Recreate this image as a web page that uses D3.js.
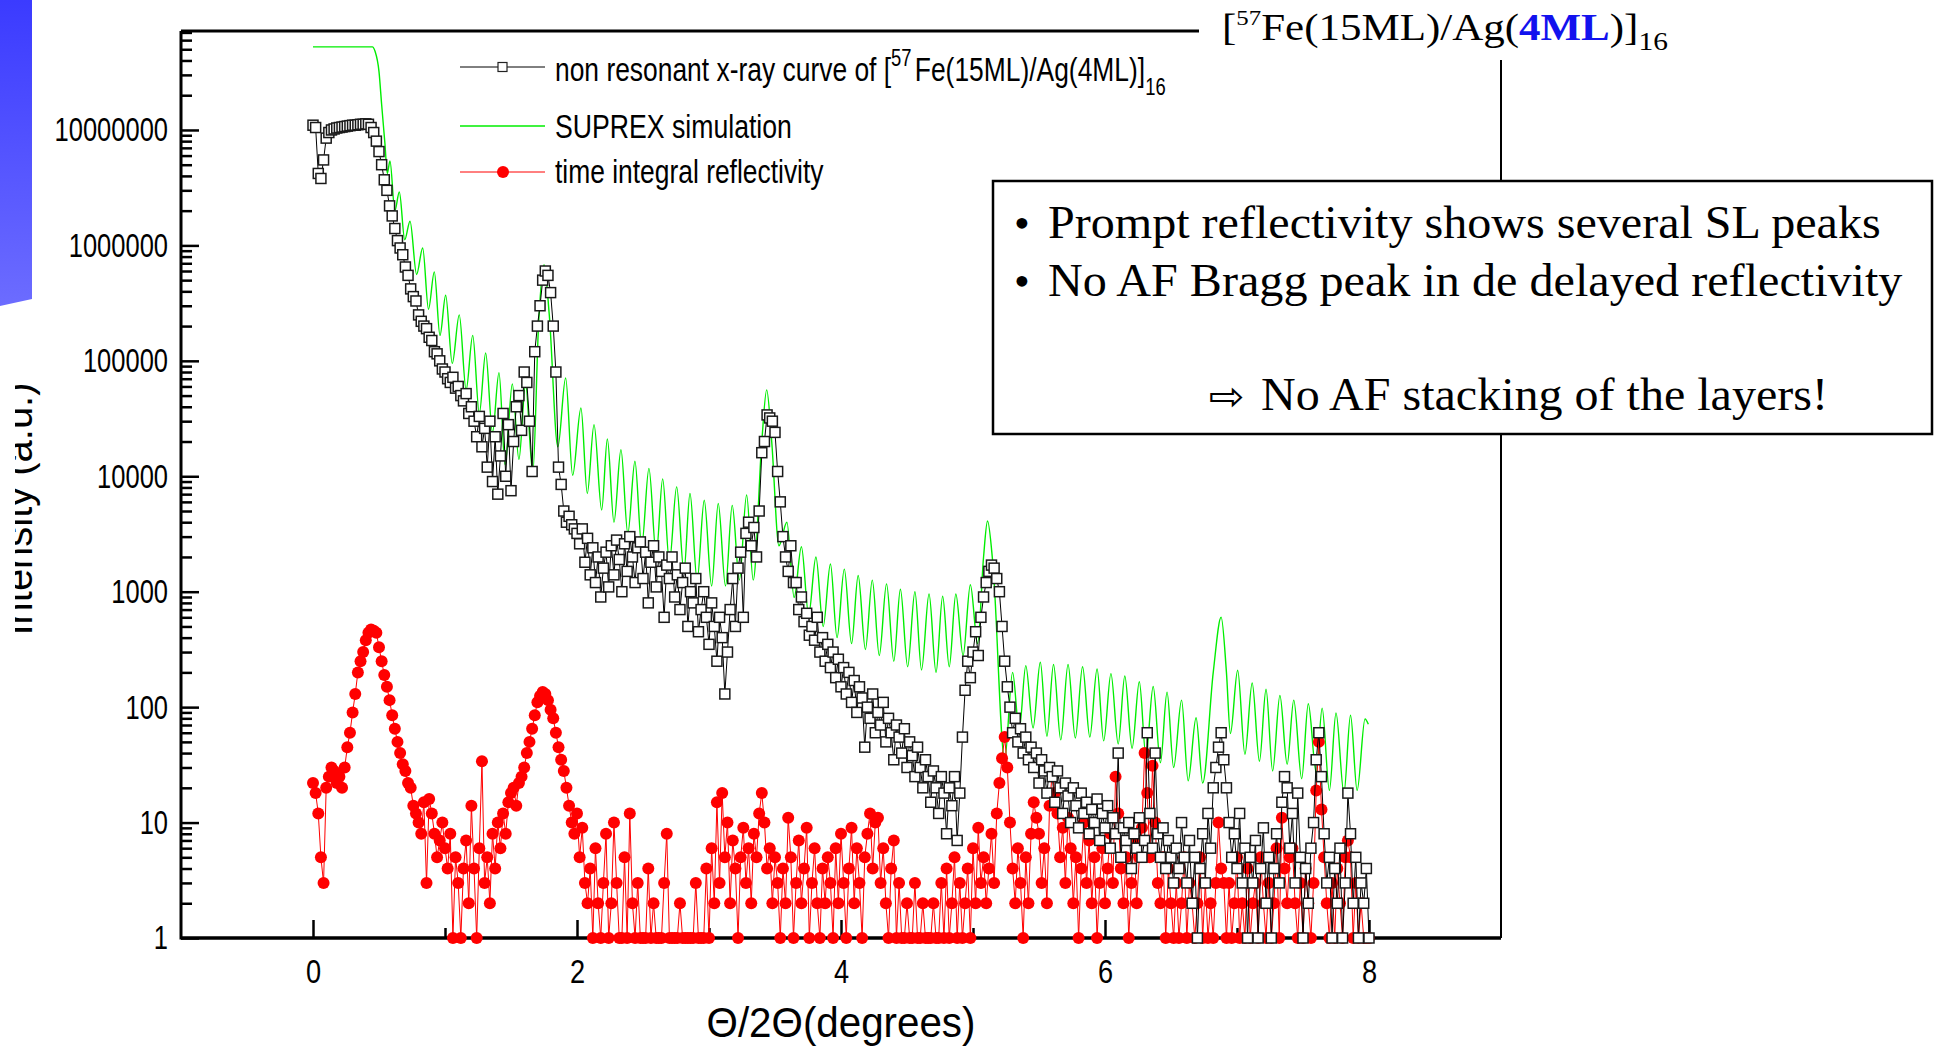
<!DOCTYPE html>
<html>
<head>
<meta charset="utf-8">
<script src="https://cdn.jsdelivr.net/npm/d3@7"></script>
<style>
  html, body { margin: 0; padding: 0; background: #fff; }
  svg { display: block; font-family: "Liberation Sans", Arial, sans-serif; }
</style>
</head>
<body>
<svg id="chart" width="1935" height="1048"></svg>
<script>
// measured points are on a regular 0.02 degree grid from 0 to 8
const thetaStep = 0.02;

// non resonant x-ray curve (black squares)
const xrayCounts = [
  1.1e7, 1.05e7, 4.2e6, 3.8e6, 5.5e6, 8.5e6, 9.5e6, 1.0e7, 1.02e7, 1.04e7,
  1.05e7, 1.06e7, 1.07e7, 1.08e7, 1.09e7, 1.1e7, 1.1e7, 1.11e7, 1.12e7, 1.12e7,
  1.13e7, 1.12e7, 1.05e7, 9.5e6, 8.0e6, 6.5e6, 5.0e6, 3.7e6, 3.0e6, 2.2e6,
  1.8e6, 1.4e6, 1.1e6, 9.5e5, 8.3e5, 6.5e5, 5.5e5, 4.2e5, 3.6e5, 3.3e5,
  2.5e5, 2.2e5, 2.0e5, 1.9e5, 1.6e5, 1.5e5, 1.2e5, 1.15e5, 1.0e5, 8.5e4,
  8.0e4, 7.0e4, 6.5e4, 7.2e4, 5.8e4, 6.0e4, 5.0e4, 4.5e4, 5.2e4, 3.5e4,
  4.0e4, 3.0e4, 2.2e4, 3.3e4, 1.8e4, 2.6e4, 1.2e4, 3.0e4, 9.0e3, 2.2e4,
  7.0e3, 1.5e4, 3.5e4, 1.0e4, 2.8e4, 7.5e3, 2.0e4, 4.0e4, 5.0e4, 2.5e4,
  8.0e4, 6.5e4, 3.0e4, 1.1e4, 1.2e5, 2.0e5, 3.0e5, 5.0e5, 6.0e5, 5.5e5,
  3.9e5, 2.0e5, 8.0e4, 1.2e4, 8.5e3, 5.0e3, 4.0e3, 4.5e3, 3.8e3, 3.5e3,
  3200, 2600, 3500, 1800, 2900, 1400, 2400, 1200, 2000, 900,
  1600, 2200, 1100, 2500, 1400, 2800, 1900, 1000, 2600, 1500,
  3000, 2000, 1200, 2400, 2700, 1300, 2200, 800, 1800, 2500,
  1100, 2000, 1500, 600, 1700, 1300, 2000, 900, 1400, 700,
  1200, 1600, 500, 1000, 800, 1300, 450, 700, 1000, 600,
  350, 800, 500, 250, 600, 400, 130, 300, 700, 1300,
  500, 1600, 2200, 600, 3200, 4000, 2500, 3600, 2000, 5000,
  16000, 20000, 34000, 32000, 30000, 24000, 11000, 6000, 3000, 2000,
  1500, 2500, 1200, 1200, 700, 900, 550, 650, 420, 500,
  380, 600, 300, 400, 250, 350, 220, 300, 180, 260,
  150, 220, 130, 200, 110, 170, 90, 150, 120, 45,
  100, 80, 130, 60, 90, 70, 110, 50, 80, 60,
  35, 70, 55, 40, 65, 30, 50, 38, 25, 45,
  30, 20, 35, 25, 15, 28, 20, 12, 25, 18,
  8, 20, 14, 25, 7, 18, 55, 140, 250, 180,
  300, 450, 280, 600, 900, 1200, 1500, 1700, 1600, 1300,
  1000, 500, 250, 150, 100, 60, 80, 50, 65, 40,
  55, 35, 45, 30, 40, 22, 35, 28, 18, 30,
  25, 15, 28, 20, 12, 22, 17, 10, 20, 14,
  9, 18, 12, 15, 8, 13, 10, 16, 7, 12,
  9, 14, 6, 11, 8, 40, 5, 9, 7, 10,
  4, 8, 6, 11, 5, 7, 60, 12, 6, 40,
  8, 5, 9, 4, 7, 5, 3, 6, 4, 10,
  5, 3, 7, 2, 5, 1, 4, 8, 3, 12,
  6, 20, 30, 45, 60, 35, 20, 10, 5, 8,
  4, 12, 3, 6, 1, 5, 3, 7, 1, 4,
  9, 2, 5, 1, 4, 8, 3, 15, 25, 20,
  6, 12, 3, 18, 5, 1, 4, 2, 6, 10,
  35, 60, 25, 8, 3, 5, 1, 4, 2, 6,
  1, 3, 18, 8, 2, 5, 1, 3, 2, 4,
  1
];

// time integral (delayed) reflectivity (red dots)
const delayedCounts = [
  22, 18, 12, 5, 3, 20, 25, 30, 28, 22,
  25, 20, 30, 45, 60, 90, 130, 200, 250, 300,
  380, 440, 470, 460, 440, 330, 250, 190, 150, 115,
  85, 65, 50, 40, 32, 28, 22, 20, 14, 12,
  10, 8, 15, 3, 16, 12, 8, 5, 7, 10,
  6, 4, 8, 1, 5, 3, 1, 4, 7, 2,
  14, 4, 1, 6, 34, 3, 5, 2, 8, 4,
  10, 6, 12, 8, 15, 18, 20, 14, 22, 25,
  30, 40, 50, 65, 85, 110, 125, 135, 130, 115,
  95, 80, 60, 45, 35, 28, 20, 14, 10, 8,
  12, 5, 9, 3, 2, 4, 1, 6, 2, 1,
  3, 8, 1, 2, 10, 3, 1, 1, 5, 1,
  12, 2, 1, 3, 1, 1, 1, 4, 1, 2,
  1, 1, 1, 3, 8, 1, 1, 1, 1, 2,
  1, 1, 1, 1, 1, 3, 1, 1, 1, 4,
  1, 6, 2, 15, 3, 18, 5, 10, 2, 7,
  4, 1, 5, 9, 3, 6, 2, 8, 5, 12,
  18, 10, 4, 6, 2, 5, 3, 1, 4, 2,
  11, 5, 1, 3, 7, 2, 4, 9, 1, 3,
  6, 2, 1, 4, 2, 5, 3, 1, 6, 2,
  8, 3, 1, 4, 9, 2, 6, 3, 1, 5,
  8, 12, 4, 10, 11, 3, 6, 2, 1, 4,
  7, 1, 3, 1, 1, 2, 1, 1, 3, 1,
  1, 2, 1, 1, 1, 2, 1, 1, 3, 1,
  4, 1, 2, 5, 1, 3, 1, 2, 4, 1,
  6, 2, 9, 3, 5, 2, 4, 8, 3, 12,
  22, 36, 55, 30, 10, 4, 2, 6, 3, 1,
  5, 2, 8, 15, 11, 8, 3, 6, 2, 14,
  27, 18, 12, 5, 9, 3, 11, 6, 2, 5,
  1, 4, 10, 3, 7, 2, 5, 1, 3, 6,
  2, 4, 8, 3, 25, 12, 4, 2, 5, 1,
  3, 7, 2, 5, 9, 40, 18, 5, 31, 10,
  3, 2, 5, 1, 4, 2, 1, 3, 1, 2,
  5, 1, 3, 2, 1, 2, 5, 1, 3, 1,
  2, 1, 3, 10, 4, 3, 1, 3, 1, 2,
  5, 1, 2, 1, 4, 1, 2, 3, 1, 5,
  2, 1, 3, 1, 2, 6, 1, 11, 4, 2,
  5, 6, 2, 1, 3, 1, 4, 2, 1, 3,
  19, 50, 13, 5, 2, 1, 3, 1, 4, 2,
  1, 5, 7, 5, 1, 3, 1, 2, 1, 1,
  1
];

// SUPREX simulation: fringe maxima and minima
const simTheta = [
  0.00, 0.45, 0.47, 0.50, 0.52, 0.545, 0.563, 0.583, 0.62, 0.654,
  0.695, 0.735, 0.785, 0.831, 0.875, 0.919, 0.962, 1.005, 1.055, 1.108,
  1.16, 1.21, 1.26, 1.308, 1.36, 1.409, 1.455, 1.51, 1.56, 1.61,
  1.665, 1.71, 1.75, 1.79, 1.855, 1.914, 1.967, 2.03, 2.078, 2.129,
  2.187, 2.23, 2.28, 2.333, 2.385, 2.439, 2.49, 2.545, 2.60, 2.649,
  2.70, 2.755, 2.81, 2.856, 2.91, 2.964, 3.02, 3.07, 3.125, 3.176,
  3.23, 3.285, 3.335, 3.40, 3.437, 3.475, 3.53, 3.59, 3.645, 3.70,
  3.755, 3.81, 3.865, 3.92, 3.97, 4.025, 4.08, 4.13, 4.185, 4.237,
  4.29, 4.345, 4.40, 4.45, 4.505, 4.56, 4.61, 4.667, 4.72, 4.77,
  4.82, 4.87, 4.925, 4.98, 5.035, 5.08, 5.11, 5.15, 5.24, 5.30,
  5.35, 5.40, 5.455, 5.51, 5.56, 5.61, 5.665, 5.72, 5.775, 5.83,
  5.885, 5.94, 5.99, 6.045, 6.10, 6.15, 6.205, 6.26, 6.31, 6.365,
  6.42, 6.47, 6.52, 6.58, 6.63, 6.69, 6.74, 6.82, 6.88, 6.92,
  6.95, 7.005, 7.06, 7.115, 7.17, 7.22, 7.27, 7.325, 7.38, 7.43,
  7.49, 7.54, 7.60, 7.645, 7.70, 7.75, 7.81, 7.86, 7.91, 7.97,
  7.995
];
const simIntensity = [
  5.25e7, 5.25e7, 4.8e7, 3.2e7, 1.66e7, 7.6e6, 4.2e6, 5.4e6, 2.0e6, 2.9e6,
  1.12e6, 1.62e6, 5.6e5, 9.5e5, 2.8e5, 5.9e5, 1.66e5, 3.7e5, 9.5e4, 2.5e5,
  5.6e4, 1.66e5, 3.5e4, 1.17e5, 2.4e4, 7.9e4, 1.26e4, 6.3e4, 1.4e4, 6.3e4,
  1.07e4, 2.2e5, 6.8e5, 2.5e5, 1.8e4, 7.1e4, 1.02e4, 3.9e4, 7.1e3, 2.8e4,
  5.1e3, 2.1e4, 4.0e3, 1.7e4, 3.2e3, 1.35e4, 2.5e3, 1.17e4, 2.1e3, 9.5e3,
  1.8e3, 8.1e3, 1.5e3, 7.1e3, 1.26e3, 6.2e3, 1.12e3, 5.8e3, 1.12e3, 5.6e3,
  1.26e3, 6.9e3, 1.26e3, 2.0e4, 5.6e4, 2.0e4, 2.5e3, 4.0e3, 890, 2450,
  630, 2000, 500, 1740, 400, 1570, 355, 1380, 316, 1260,
  280, 1170, 250, 1050, 224, 1000, 210, 955, 200, 912,
  224, 955, 280, 1150, 355, 2000, 4100, 1780, 35, 200,
  63, 229, 66, 245, 56, 234, 52, 234, 54, 224,
  55, 214, 51, 195, 48, 186, 44, 166, 38, 151,
  33, 135, 30, 115, 23, 81, 22, 200, 600, 200,
  59, 209, 39, 162, 34, 143, 28, 126, 32, 115,
  24, 107, 27, 98, 19, 89, 18, 85, 19, 79,
  71
];

const xMajorTicks = [0, 2, 4, 6, 8];
const xMinorTicks = [1, 3, 5, 7];
const yMajorTicks = [1, 10, 100, 1000, 10000, 100000, 1000000, 10000000];

const legendLabels = ["SUPREX simulation", "time integral reflectivity"];
const noteLines = [
  "Prompt reflectivity shows several SL peaks",
  "No AF Bragg peak in de delayed reflectivity"
];
const conclusion = "No AF stacking of the layers!";

const svg = d3.select("#chart");
const serif = "'Liberation Serif', 'Times New Roman', serif";

const x = d3.scaleLinear().domain([-1, 9]).range([181, 1501]);
const y = d3.scaleLog().domain([1, 7.2e7]).range([938, 31]);

// squeeze text horizontally around a pivot
function scaleText(sel, k, pivot) {
  sel.each(function () {
    const b = this.getBBox();
    const px = pivot === "end" ? b.x + b.width : pivot === "middle" ? b.x + b.width / 2 : b.x;
    d3.select(this).attr("transform", `translate(${px * (1 - k)},0) scale(${k},1)`);
  });
}
function fitText(sel, width, pivot) {
  sel.each(function () {
    const b = this.getBBox();
    scaleText(d3.select(this), width / b.width, pivot);
  });
}

// blue slide decoration at the upper left
const grad = svg.append("defs").append("linearGradient")
  .attr("id", "slideBlue").attr("x1", 0).attr("y1", 0).attr("x2", 0).attr("y2", 1);
grad.append("stop").attr("offset", "0%").attr("stop-color", "#3b3bff");
grad.append("stop").attr("offset", "100%").attr("stop-color", "#6c6cff");
svg.append("path")
  .attr("d", "M0,0L32,0L32,299L0,306Z")
  .attr("fill", "url(#slideBlue)");

svg.select("defs").append("clipPath").attr("id", "ytitleClip")
  .append("rect").attr("x", 15).attr("y", 300).attr("width", 60).attr("height", 400);

// axes with inward ticks
const yMinorTicks = [];
for (let d = 0; d < 8; d++) {
  for (let m = 2; m <= 9; m++) {
    const v = m * Math.pow(10, d);
    if (v < 7.2e7) yMinorTicks.push(v);
  }
}

const yAxisG = svg.append("g").attr("transform", "translate(181,0)");
yAxisG.append("g")
  .call(d3.axisLeft(y).tickValues(yMinorTicks).tickSize(-11).tickFormat(""))
  .call(g => g.select(".domain").remove());
const yMajor = yAxisG.append("g")
  .call(d3.axisLeft(y).tickValues(yMajorTicks).tickSize(-18).tickPadding(13).tickFormat(d3.format("d")))
  .call(g => g.select(".domain").remove());
yAxisG.selectAll("line").attr("stroke", "#000").attr("stroke-width", 2.5);
yMajor.selectAll("text")
  .attr("font-size", 34).attr("font-family", "'Liberation Sans', Arial, sans-serif").attr("fill", "#000");
scaleText(yMajor.selectAll("text"), 0.75, "end");

const xAxisG = svg.append("g").attr("transform", "translate(0,938)");
xAxisG.append("g")
  .call(d3.axisBottom(x).tickValues(xMinorTicks).tickSize(-10).tickFormat(""))
  .call(g => g.select(".domain").remove());
const xMajor = xAxisG.append("g")
  .call(d3.axisBottom(x).tickValues(xMajorTicks).tickSize(-18).tickPadding(21).tickFormat(d3.format("d")))
  .call(g => g.select(".domain").remove());
xAxisG.selectAll("line").attr("stroke", "#000").attr("stroke-width", 2.5);
xMajor.selectAll("text")
  .attr("font-size", 34).attr("font-family", "'Liberation Sans', Arial, sans-serif").attr("fill", "#000");
scaleText(xMajor.selectAll("text"), 0.8, "middle");

// frame
const frame = svg.append("g").attr("stroke", "#000").attr("fill", "none");
frame.append("line").attr("x1", x(-1)).attr("x2", x(-1)).attr("y1", y(7.2e7)).attr("y2", y(1) + 1.5).attr("stroke-width", 3);
frame.append("line").attr("x1", x(-1)).attr("x2", x(9)).attr("y1", y(1)).attr("y2", y(1)).attr("stroke-width", 3.5);
frame.append("line").attr("x1", x(-1)).attr("x2", 1199).attr("y1", y(7.2e7)).attr("y2", y(7.2e7)).attr("stroke-width", 3);
frame.append("line").attr("x1", x(9)).attr("x2", x(9)).attr("y1", 60).attr("y2", y(1)).attr("stroke-width", 2);

// series
const xray = xrayCounts.map((v, i) => ({ t: i * thetaStep, v }));
const delayed = delayedCounts.map((v, i) => ({ t: i * thetaStep, v }));
const sim = simTheta.map((t, i) => ({ t, v: simIntensity[i] }));

const lineGen = d3.line().x(d => x(d.t)).y(d => y(d.v));

svg.append("path")
  .datum(sim)
  .attr("fill", "none")
  .attr("stroke", "#00ee00")
  .attr("stroke-width", 1.4)
  .attr("d", lineGen.curve(d3.curveMonotoneX));

lineGen.curve(d3.curveLinear);

svg.append("path")
  .datum(delayed)
  .attr("fill", "none")
  .attr("stroke", "#ff0000")
  .attr("stroke-width", 1)
  .attr("d", lineGen);
svg.append("g").selectAll("circle")
  .data(delayed)
  .join("circle")
  .attr("cx", d => x(d.t))
  .attr("cy", d => y(d.v))
  .attr("r", 6)
  .attr("fill", "#ff0000");

svg.append("path")
  .datum(xray)
  .attr("fill", "none")
  .attr("stroke", "#000")
  .attr("stroke-width", 1)
  .attr("d", lineGen);
svg.append("g").selectAll("rect")
  .data(xray)
  .join("rect")
  .attr("x", d => x(d.t) - 5)
  .attr("y", d => y(d.v) - 5)
  .attr("width", 10)
  .attr("height", 10)
  .attr("fill", "#fff")
  .attr("stroke", "#1a1a1a")
  .attr("stroke-width", 1.5);

// legend
const legend = svg.append("g");
const legendRows = [67, 126, 172];
legend.append("line").attr("x1", 460).attr("x2", 545).attr("y1", legendRows[0]).attr("y2", legendRows[0])
  .attr("stroke", "#000").attr("stroke-width", 1);
legend.append("rect").attr("x", 498).attr("y", legendRows[0] - 4.5).attr("width", 9).attr("height", 9)
  .attr("fill", "#fff").attr("stroke", "#222").attr("stroke-width", 1.2);
legend.append("line").attr("x1", 460).attr("x2", 545).attr("y1", legendRows[1]).attr("y2", legendRows[1])
  .attr("stroke", "#00ee00").attr("stroke-width", 1.4);
legend.append("line").attr("x1", 460).attr("x2", 545).attr("y1", legendRows[2]).attr("y2", legendRows[2])
  .attr("stroke", "#ff0000").attr("stroke-width", 1);
legend.append("circle").attr("cx", 503).attr("cy", legendRows[2]).attr("r", 6).attr("fill", "#ff0000");

const leg1 = legend.append("text").attr("x", 555).attr("y", 81).attr("font-size", 33).attr("fill", "#000");
leg1.append("tspan").text("non resonant x-ray curve of [");
leg1.append("tspan").attr("font-size", 23).attr("dy", -15).text("57");
leg1.append("tspan").attr("dy", 15).attr("dx", 4).text("Fe(15ML)/Ag(4ML)]");
leg1.append("tspan").attr("font-size", 23).attr("dy", 14).text("16");
fitText(leg1, 611, "start");

const leg2 = legend.append("text").attr("x", 555).attr("y", 138).attr("font-size", 33).text(legendLabels[0]);
fitText(leg2, 237, "start");
const leg3 = legend.append("text").attr("x", 555).attr("y", 183).attr("font-size", 33).text(legendLabels[1]);
fitText(leg3, 269, "start");

// axis titles
const xTitle = svg.append("text").attr("x", 841).attr("y", 1037)
  .attr("text-anchor", "middle").attr("font-size", 42).text("\u0398/2\u0398(degrees)");
fitText(xTitle, 269, "middle");

svg.append("g").attr("clip-path", "url(#ytitleClip)")
  .append("text")
  .attr("transform", "translate(32,509) rotate(-90)")
  .attr("text-anchor", "middle")
  .attr("font-size", 40)
  .attr("textLength", 253)
  .attr("lengthAdjust", "spacingAndGlyphs")
  .text("Intensity (a.u.)");

// sample title at the top right
const title = svg.append("text").attr("x", 1222).attr("y", 40)
  .attr("font-family", serif).attr("font-size", 38).attr("fill", "#000");
title.append("tspan").text("[");
title.append("tspan").attr("font-size", 22).attr("dy", -15).text("57");
title.append("tspan").attr("dy", 15).text("Fe(15ML)/Ag(");
title.append("tspan").attr("font-weight", "bold").attr("fill", "#1212ee").text("4ML");
title.append("tspan").text(")]");
title.append("tspan").attr("font-size", 26).attr("dy", 10).text("16");
fitText(title, 446, "start");

// remarks box
const box = svg.append("g");
box.append("rect").attr("x", 993).attr("y", 181).attr("width", 939).attr("height", 253)
  .attr("fill", "#fff").attr("stroke", "#000").attr("stroke-width", 2.5);
const noteBase = [238, 296];
const noteWidth = [833, 855];
noteLines.forEach((s, i) => {
  box.append("text").attr("x", 1014).attr("y", noteBase[i])
    .attr("font-family", serif).attr("font-size", 45).text("\u2022");
  const t = box.append("text").attr("x", 1048).attr("y", noteBase[i])
    .attr("font-family", serif).attr("font-size", 47).text(s);
  fitText(t, noteWidth[i], "start");
});
const arrow = box.append("text").attr("x", 1209).attr("y", 410)
  .attr("font-family", "'DejaVu Sans', sans-serif").attr("font-size", 40).text("\u21E8");
fitText(arrow, 36, "start");
const concl = box.append("text").attr("x", 1261).attr("y", 410)
  .attr("font-family", serif).attr("font-size", 47).text(conclusion);
fitText(concl, 567, "start");
</script>
</body>
</html>
